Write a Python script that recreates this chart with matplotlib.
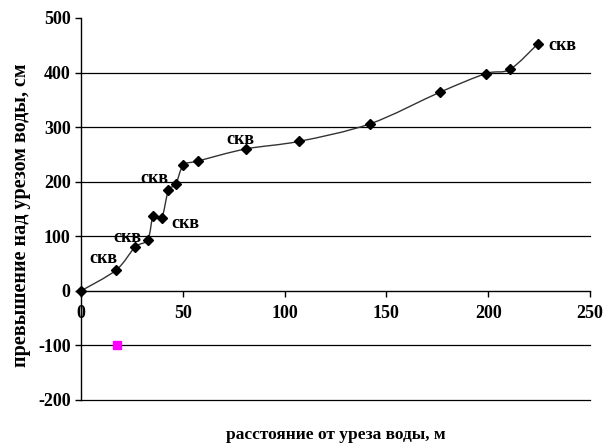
import matplotlib
matplotlib.use("Agg")
import matplotlib.pyplot as plt
from matplotlib.path import Path
from matplotlib.patches import PathPatch
import numpy as np

# Profile of the bank: distance from water edge (m) vs. height above water edge (cm)
distance = [0, 17.2, 26.5, 32.8, 35.5, 39.6, 42.9, 46.5, 50.3, 57.6,
            80.9, 107.2, 141.9, 176.3, 198.8, 210.7, 224.5]
height = [0, 38, 80, 94, 138, 133, 184, 195, 230, 238,
          260, 274, 306, 364, 398, 406, 453]

# Separate point (water edge reference)
ref_x = [17.5]
ref_y = [-100]

# Well ("скв") annotations
well_x = [11.1, 22.6, 36.3, 51.2, 78.1, 236.7]
well_y = [59, 98, 205, 123, 277, 449]
well_text = "скв"

x_ticks = [0, 50, 100, 150, 200, 250]
y_ticks = [-200, -100, 0, 100, 200, 300, 400, 500]
grid_levels = [-200, -100, 100, 200, 300, 400]

plt.rcParams["font.family"] = ["Liberation Serif", "DejaVu Serif"]
plt.rcParams["axes.unicode_minus"] = False

fig = plt.figure(figsize=(6.11, 4.43), dpi=100)
ax = fig.add_axes([0.1326, 0.0971, 0.8330, 0.8623])
ax.set_xlim(0, 250)
ax.set_ylim(-200, 500)

for g in grid_levels:
    ax.axhline(g, color="black", lw=0.9, zorder=1, clip_on=False)

# Smoothed connecting curve (cardinal spline as cubic Bezier segments)
pts = np.column_stack([distance, height]).astype(float)
verts = [tuple(pts[0])]
codes = [Path.MOVETO]
n = len(pts)
t = 1.0 / 6.0
for i in range(n - 1):
    p0 = pts[i - 1] if i > 0 else pts[i]
    p1 = pts[i]
    p2 = pts[i + 1]
    p3 = pts[i + 2] if i + 2 < n else pts[i + 1]
    c1 = p1 + (p2 - p0) * t
    c2 = p2 - (p3 - p1) * t
    verts += [tuple(c1), tuple(c2), tuple(p2)]
    codes += [Path.CURVE4, Path.CURVE4, Path.CURVE4]
ax.add_patch(PathPatch(Path(verts, codes), fill=False, edgecolor="#333333",
                       lw=1.0, zorder=2))

ax.plot(distance, height, linestyle="none", marker="D", ms=5.5,
        color="black", zorder=3, clip_on=False)
ax.plot(ref_x, ref_y, linestyle="none", marker="s", ms=5.5,
        color="#ff00ff", zorder=3)

for wx, wy in zip(well_x, well_y):
    ax.text(wx, wy, well_text, ha="center", va="center", fontsize=13,
            fontweight="bold", color="black")

ax.spines["top"].set_visible(False)
ax.spines["right"].set_visible(False)
ax.spines["bottom"].set_position(("data", 0))
ax.spines["bottom"].set_linewidth(1.0)
ax.spines["left"].set_linewidth(1.0)

ax.set_xticks(x_ticks)
ax.set_yticks(y_ticks)
ax.tick_params(axis="both", direction="out", length=4, width=1,
               labelsize=13)
for lab in ax.get_xticklabels() + ax.get_yticklabels():
    lab.set_fontweight("bold")
ax.tick_params(axis="x", pad=6)

fig.text(0.5491, 0.018, "расстояние от уреза воды, м", ha="center",
         va="center", fontsize=12.5, fontweight="bold")
fig.text(0.034, 0.515, "превышение над урезом воды, см", ha="center",
         va="center", rotation=90, fontsize=14.5, fontweight="bold")

fig.savefig("out.png", dpi=100)
